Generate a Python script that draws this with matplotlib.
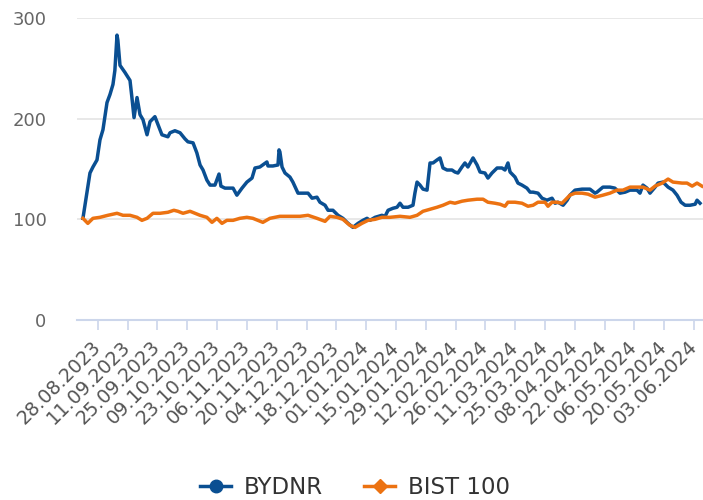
import matplotlib.pyplot as plt
from matplotlib.lines import Line2D
import pandas as pd

# days counted from 21.08.2023, values indexed to 100
bydnr_days = [0, 3.3, 4.7, 6.6, 8, 9.4, 11.3, 12.7, 14.1, 15, 16, 16.4, 17.4, 19.7, 22.1,
              23, 24, 25.4, 26.8, 28.2, 30.1, 31.5, 33.8, 37.1, 39.9, 40.9, 43.2, 45.6,
              47.9, 49.3, 51.7, 53.5, 55, 56.4, 58.2, 59.7, 62, 63.9, 64.8, 66.7, 69, 70.5,
              72.3, 74.7, 77, 79.4, 80.8, 83.1, 86.4, 86.9, 89.2, 91.6, 92.1, 92.5, 93.5,
              94.9, 97.2, 98.6, 101, 103.3, 105.7, 107.6, 109.9, 111.3, 113.7, 115.1, 117.4,
              119.8, 122.1, 124.5, 126.8, 129.2, 131.5, 133.4, 134.8, 137.2, 140.4, 141.9,
              143.3, 145.6, 147.5, 148.9, 150.3, 152.7, 155, 155.9, 156.9, 158.3, 159.7,
              161.6, 163, 164.4, 166.3, 167.7, 169.1, 171, 173.3, 174.7, 176.1, 178, 179.4,
              180.8, 183.2, 185.1, 186.5, 188.8, 190.2, 192.1, 194.5, 196.8, 198.2, 199.6,
              200.6, 202.9, 204.3, 206.2, 208.5, 210, 211.4, 213.7, 215.6, 217.9, 220.3,
              221.7, 223.1, 225.5, 227.4, 228.7, 231.1, 234.4, 238.1, 240.5, 241.4, 244.2,
              247.5, 249.8, 252.2, 254.6, 256.9, 260.2, 261.6, 263, 264.9, 266.3, 268.7,
              270.1, 272.4, 274.8, 277.1, 279, 280.9, 282.8, 285.1, 287.5, 288.4, 289.8]
bydnr_vals = [101, 146, 152, 159, 179, 189, 216, 224, 234, 248, 283, 278, 253, 246, 238,
              221, 201, 221, 204, 199, 184, 197, 202, 184, 182, 186, 188, 186,
              180, 177, 176, 166, 154, 149, 139, 134, 134, 145, 133, 131, 131, 131,
              124, 131, 137, 141, 151, 152, 157, 153, 153, 154, 169, 167, 152,
              146, 142, 137, 126, 126, 126, 121, 122, 117, 114, 109, 109,
              104, 101, 96, 92, 96, 99, 101, 99, 102, 104, 103,
              109, 111, 112, 116, 112, 112, 114, 126, 137, 134, 130,
              129, 156, 156, 159, 161, 151, 149, 149, 147, 146, 152, 156,
              152, 161, 154, 147, 146, 141, 146, 151, 151, 149, 156,
              147, 142, 136, 134, 131, 127, 127, 126, 121, 119, 121,
              116, 117, 114, 119, 124, 129, 130, 130, 126, 127, 132,
              132, 131, 126, 127, 129, 129, 126, 134, 131, 126, 132,
              136, 137, 132, 129, 124, 117, 114, 114, 115, 119, 116]

bist_days = [0, 2.3, 4.7, 8, 11.7, 16, 18.8, 22.1, 25.4, 27.7, 30.1, 32.9, 36.2, 39.9,
             42.7, 44.6, 47, 50.3, 55, 58.2, 60.6, 62.9, 65.3, 67.6, 70.5, 73.7, 77,
             79.8, 84.5, 87.8, 92.5, 98.6, 101.9, 105.7, 109.9, 113.7, 116, 119.3, 122.1,
             125.4, 127.8, 131, 133.9, 137.2, 140.4, 144.2, 148.9, 153.6, 156.9, 159.7,
             163, 166.3, 169.1, 172.4, 174.7, 178, 180.8, 185.1, 187.9, 190.2, 193.5,
             195.9, 198.2, 199.6, 202.9, 206.2, 209, 211.4, 213.7, 217, 218.4, 220.3,
             222.6, 225, 226.4, 228.7, 231.1, 234.4, 237.2, 240.5, 244.2, 247.5, 250.8,
             253.6, 256.9, 263, 266.3, 268.7, 272, 274.8, 277.1, 281.4, 283.7, 286.1,
             288.4, 290.7]
bist_vals = [101, 96, 101, 102, 104, 106, 104, 104, 102, 99, 101, 106, 106, 107,
             109, 108, 106, 108, 104, 102, 97, 101, 96, 99, 99, 101, 102,
             101, 97, 101, 103, 103, 103, 104, 101, 98, 103, 102, 100,
             94, 92, 96, 99, 100, 102, 102, 103, 102, 104, 108,
             110, 112, 114, 117, 116, 118, 119, 120, 120, 117, 116,
             115, 113, 117, 117, 116, 113, 114, 117, 117, 113, 117,
             117, 116, 119, 124, 126, 126, 125, 122, 124, 126, 129,
             129, 132, 132, 129, 133, 136, 140, 137, 136, 136, 133,
             136, 133]

start = pd.Timestamp('2023-08-21')
tick_dates = pd.date_range('2023-08-28', '2024-06-03', freq='14D')

bydnr_x = start + pd.to_timedelta(bydnr_days, unit='D')
bist_x = start + pd.to_timedelta(bist_days, unit='D')

blue = '#0a4f92'
orange = '#ec7211'
font = 'DejaVu Sans'

fig = plt.figure(figsize=(7.03, 5.0), dpi=100)
ax = fig.add_axes([0.1095, 0.36, 0.8905, 0.604])

ax.plot(bydnr_x, bydnr_vals, color=blue, lw=2.5, zorder=3)
ax.plot(bist_x, bist_vals, color=orange, lw=2.5, zorder=4)

ax.set_ylim(0, 300)
ax.set_yticks([0, 100, 200, 300])
ax.set_xlim(start - pd.Timedelta(days=2.8), start + pd.Timedelta(days=291.2))
ax.set_xticks(tick_dates)
ax.set_xticklabels([d.strftime('%d.%m.%Y') for d in tick_dates], rotation=45,
                   ha='right', va='center', rotation_mode='anchor', fontsize=13.8,
                   color='#555555', family=font)

ax.grid(axis='y', color='#e6e6e6', lw=1.3)
ax.set_axisbelow(True)
for s in ['top', 'right', 'left']:
    ax.spines[s].set_visible(False)
ax.spines['bottom'].set_color('#ccd6eb')
ax.spines['bottom'].set_linewidth(1.5)
ax.spines['bottom'].set_zorder(5)

ax.tick_params(axis='y', length=0, pad=22, labelsize=13, labelcolor='#666666')
ax.tick_params(axis='x', length=7, width=1.2, color='#ccd6eb', pad=10)
for lab in ax.get_yticklabels():
    lab.set_family(font)

handles = [Line2D([], [], color=blue, lw=2.5, marker='o', markersize=9),
           Line2D([], [], color=orange, lw=2.5, marker='D', markersize=7)]
fig.legend(handles, ['BYDNR', 'BIST 100'], loc='center', bbox_to_anchor=(0.505, 0.024),
           ncol=2, frameon=False, handlelength=1.35, handletextpad=0.55,
           columnspacing=1.8, prop={'family': font, 'size': 16.5},
           labelcolor='#333333')

fig.savefig('out.png', dpi=100)
